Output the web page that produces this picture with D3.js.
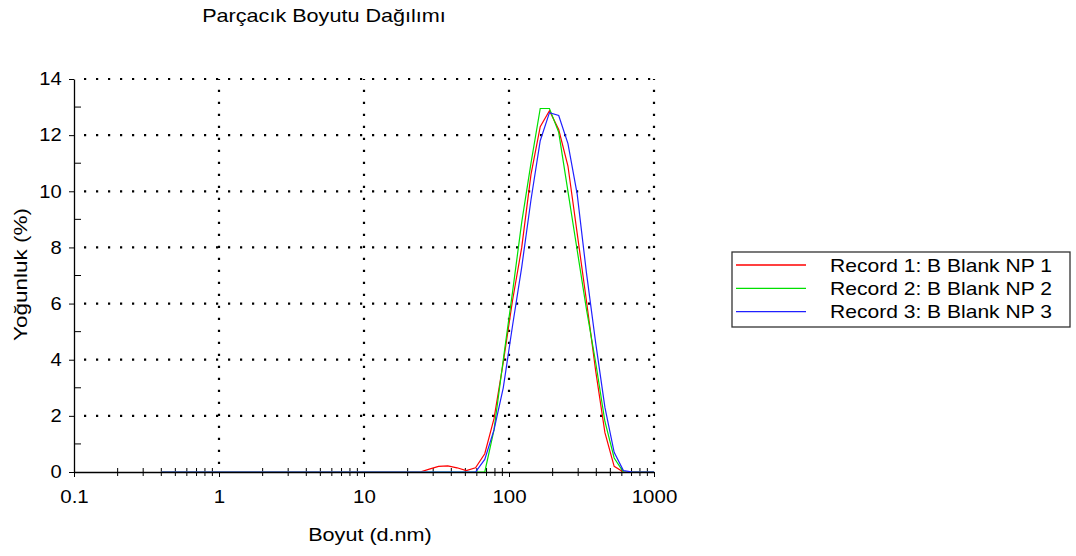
<!DOCTYPE html>
<html>
<head>
<meta charset="utf-8">
<script src="https://cdn.jsdelivr.net/npm/d3@7"></script>
<style>
  body { margin: 0; background: #fff; }
  text { font-family: "Liberation Sans", Arial, sans-serif; fill: #000; }
</style>
</head>
<body>
<div id="chart"></div>
<script>
// size classes (d.nm)
const sizes = [0.4, 0.4632, 0.5365, 0.6213, 0.7195, 0.8332, 0.9649, 1.117, 1.294, 1.499,
    1.736, 2.010, 2.328, 2.696, 3.122, 3.615, 4.187, 4.849, 5.615, 6.503,
    7.531, 8.721, 10.10, 11.70, 13.54, 15.69, 18.17, 21.04, 24.36, 28.21,
    32.67, 37.84, 43.82, 50.75, 58.77, 68.06, 78.82, 91.28, 105.7, 122.4,
    141.8, 164.2, 190.1, 220.2, 255.0, 295.3, 342.0, 396.1, 458.7, 531.2,
    615.1, 712.4, 825.0, 955.4, 1106];

// intensity (%)
const record1 = [0, 0, 0, 0, 0, 0, 0, 0, 0, 0,
    0, 0, 0, 0, 0, 0, 0, 0, 0, 0,
    0, 0, 0, 0, 0, 0, 0, 0, 0, 0.1,
    0.2, 0.22, 0.15, 0.05, 0.15, 0.65, 1.9, 3.9, 6.1, 8.0,
    10.6, 12.3, 12.87, 12.2, 10.9, 8.5, 6.1, 3.6, 1.4, 0.2,
    0, 0, 0, 0, 0];
const record2 = [0, 0, 0, 0, 0, 0, 0, 0, 0, 0,
    0, 0, 0, 0, 0, 0, 0, 0, 0, 0,
    0, 0, 0, 0, 0, 0, 0, 0, 0, 0,
    0, 0, 0, 0, 0, 0, 1.5, 4.0, 6.4, 8.9,
    11.0, 12.95, 12.95, 12.1, 10.0, 7.9, 5.8, 3.9, 1.8, 0.5,
    0, 0, 0, 0, 0];
const record3 = [0, 0, 0, 0, 0, 0, 0, 0, 0, 0,
    0, 0, 0, 0, 0, 0, 0, 0, 0, 0,
    0, 0, 0, 0, 0, 0, 0, 0, 0, 0,
    0, 0, 0, 0, 0, 0.45, 1.5, 3.0, 5.2, 7.3,
    9.7, 11.8, 12.8, 12.7, 11.7, 9.9, 7.1, 4.6, 2.3, 0.7,
    0.05, 0, 0, 0, 0];

const seriesNames = ["Record 1: B Blank NP 1", "Record 2: B Blank NP 2", "Record 3: B Blank NP 3"];
const seriesValues = [record1, record2, record3];
const seriesColors = ["#ff0000", "#00e000", "#2020ff"];

const xTicks = [0.1, 1, 10, 100, 1000];
const yTicks = [0, 2, 4, 6, 8, 10, 12, 14];
const yMinor = [1, 3, 5, 7, 9, 11, 13];

drawChart();

function drawChart() {

    let margin = { top: 79, right: 422, bottom: 84, left: 74 },
        W = 1076, H = 556,
        width = W - margin.left - margin.right,
        height = H - margin.top - margin.bottom;

    let svg = d3.select("#chart").append("svg")
        .attr("width", W)
        .attr("height", H)
        .append("g")
        .attr("transform", "translate(" + margin.left + "," + margin.top + ")");

    let x = d3.scaleLog().domain([0.1, 1000]).range([0, width]);
    let y = d3.scaleLinear().domain([0, 14]).range([height, 0]);

    // the original text is drawn a bit wider than Liberation Sans
    function wideText(parent, tx, ty, str, sx, anchor) {
        return parent.append("text")
            .attr("transform", "translate(" + tx + "," + ty + ") scale(" + sx + ",1)")
            .style("text-anchor", anchor || "middle")
            .style("font-size", "18px")
            .text(str);
    }

    // dotted grid
    let grid = svg.append("g")
        .attr("stroke", "#000")
        .attr("stroke-width", 2.2)
        .attr("stroke-dasharray", "2.2,9.8");
    grid.selectAll(".hgrid")
        .data(yTicks.filter(d => d > 0))
        .enter().append("line")
        .attr("x1", 10).attr("x2", width)
        .attr("y1", d => y(d)).attr("y2", d => y(d));
    grid.selectAll(".vgrid")
        .data(xTicks.filter(d => d > 0.1))
        .enter().append("line")
        .attr("x1", d => x(d)).attr("x2", d => x(d))
        .attr("y1", height - 8).attr("y2", 0);

    // x axis
    svg.append("g")
        .attr("transform", "translate(0," + height + ")")
        .call(d3.axisBottom(x).tickValues(xTicks).tickFormat(d3.format("~g"))
            .tickSize(5).tickSizeOuter(0).tickPadding(13))
        .call(g => g.selectAll("text").style("font-size", "18px").attr("font-family", null)
            .attr("transform", "scale(1.14,1)"))
        .call(g => g.select(".domain").attr("stroke-width", 1.3));

    // x minor ticks
    svg.append("g").selectAll("line")
        .data(x.ticks().filter(d => xTicks.indexOf(d) < 0))
        .enter().append("line")
        .attr("x1", d => x(d)).attr("x2", d => x(d))
        .attr("y1", height - 4).attr("y2", height + 4)
        .attr("stroke", "#000");

    // y axis
    svg.append("g")
        .call(d3.axisLeft(y).tickValues(yTicks).tickSize(5).tickSizeOuter(0).tickPadding(6))
        .call(g => g.selectAll("text").style("font-size", "18px").attr("font-family", null)
            .attr("transform", "scale(1.12,1)"))
        .call(g => g.select(".domain").attr("stroke-width", 1.3));

    // y minor ticks
    svg.append("g").selectAll("line")
        .data(yMinor)
        .enter().append("line")
        .attr("x1", 0).attr("x2", 7)
        .attr("y1", d => y(d)).attr("y2", d => y(d))
        .attr("stroke", "#000");

    // curves
    svg.append("clipPath").attr("id", "clip")
        .append("rect").attr("width", width).attr("height", height + 2).attr("y", -2);

    let line = d3.line()
        .x((d, i) => x(sizes[i]))
        .y(d => y(d));

    svg.append("g").attr("clip-path", "url(#clip)")
        .selectAll("path")
        .data(seriesValues)
        .enter().append("path")
        .attr("d", line)
        .attr("fill", "none")
        .attr("stroke", (d, i) => seriesColors[i])
        .attr("stroke-width", 1.2);

    // titles
    wideText(svg, 250, -57, "Parçacık Boyutu Dağılımı", 1.2);
    wideText(svg, width / 2 + 6, height + 69, "Boyut (d.nm)", 1.2);

    svg.append("g")
        .attr("transform", "rotate(-90)")
        .call(g => wideText(g, -height / 2 + 1, -47, "Yoğunluk (%)", 1.25));

    // legend
    let legend = svg.append("g")
        .attr("transform", "translate(" + (732 - margin.left) + "," + (252 - margin.top) + ")");
    legend.append("rect")
        .attr("width", 338).attr("height", 75)
        .attr("fill", "#fff").attr("stroke", "#333").attr("stroke-width", 1.3);
    let item = legend.selectAll(".item")
        .data(seriesNames)
        .enter().append("g")
        .attr("transform", (d, i) => "translate(0," + (13 + i * 23.3) + ")");
    item.append("line")
        .attr("x1", 4).attr("x2", 74)
        .attr("stroke", (d, i) => seriesColors[i])
        .attr("stroke-width", 1.3);
    item.each(function(d) {
        wideText(d3.select(this), 98, 6.5, d, 1.17, "start");
    });
}
</script>
</body>
</html>
